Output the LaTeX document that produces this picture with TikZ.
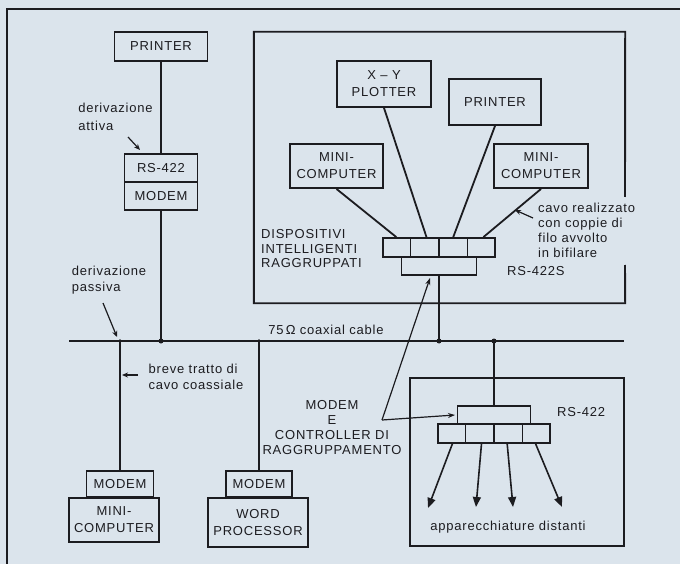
\documentclass[tikz,border=0pt]{standalone}
\usepackage{fontspec}
\setmainfont{Liberation Sans}[LetterSpace=6]
\usetikzlibrary{arrows.meta,calc}
\definecolor{bg}{RGB}{219,228,236}
\definecolor{ink}{RGB}{28,28,32}
\begin{document}
\begin{tikzpicture}[x=1pt,y=-1pt,
  font=\fontsize{13}{17}\selectfont,
  box/.style={draw=ink,line width=1.9pt,align=center,inner sep=0pt,text=ink},
  bar/.style={draw=ink,line width=1.7pt,inner sep=0pt},
  wire/.style={draw=ink,line width=1.8pt},
  lbl/.style={inner sep=0pt,text=ink},
  ptr/.style={draw=ink,line width=1.2pt,-{Stealth[length=6pt,width=5pt]}},
  bigarrow/.style={draw=ink,line width=1.6pt,-{Triangle[length=10pt,width=8pt]}},
  dot/.style={fill=ink}]
\useasboundingbox[fill=bg] (0,0) rectangle (680,564);
% outer frame (left and top edges)
\draw[ink,line width=2pt] (7,564) -- (7,9) -- (680,9);

% ---------- left column ----------
\node[box,minimum width=93pt,minimum height=29pt] (p1) at (161,46.5) {PRINTER};
\node[box,minimum width=73pt,minimum height=28pt] (rs) at (161,168) {RS-422};
\node[box,minimum width=73pt,minimum height=28pt] (md) at (161,196) {MODEM};
\draw[wire] (p1.south) -- (rs.north);

\node[lbl,align=left,font=\fontsize{13}{18}\selectfont] (att) at (115.5,117) {derivazione\\attiva};
\coordinate (attA) at (128,137);
\coordinate (attB) at (140,150);
\draw[ptr] (attA) -- (attB);

\node[lbl,align=left,font=\fontsize{13}{16}\selectfont] (pas) at (109,280) {derivazione\\passiva};
\coordinate (pasA) at (103,303);
\coordinate (pasB) at (117,337);
\draw[ptr] (pasA) -- (pasB);

% ---------- coax ----------
\coordinate (cL) at (69,341);
\coordinate (cR) at (624,341);
\coordinate (j1) at (120,341);
\coordinate (j2) at (161,341);
\coordinate (j3) at (259,341);
\coordinate (j4) at (439,341);
\coordinate (j5) at (494,341);
\draw[wire] (cL) -- (cR);
\draw[wire] (md.south) -- (j2);
\node[lbl] (coaxlbl) at (326,330) {75\,Ω coaxial cable};
\fill[dot] (j1) circle (1.9pt);
\fill[dot] (j2) circle (2.5pt);
\fill[dot] (j3) circle (1.9pt);
\fill[dot] (j4) circle (2.5pt);
\fill[dot] (j5) circle (2.5pt);

% ---------- bottom left ----------
\node[box,minimum width=67pt,minimum height=26pt] (mdL) at (120,484) {MODEM};
\node[box,minimum width=90pt,minimum height=44pt] (mcB) at (114,520) {MINI-\\COMPUTER};
\node[box,minimum width=66pt,minimum height=26pt] (mdW) at (259,484) {MODEM};
\node[box,minimum width=100pt,minimum height=49pt] (wp) at (258,522.5) {WORD\\PROCESSOR};
\draw[wire] (j1) -- (mdL.north);
\draw[wire] (j3) -- (mdW.north);

\node[lbl,align=left,font=\fontsize{13}{16}\selectfont] (breve) at (196,377) {breve tratto di\\cavo coassiale};
\coordinate (brA) at (138,375);
\coordinate (brB) at (122,375);
\draw[ptr] (brA) -- (brB);

% ---------- upper right group ----------
\node[minimum width=371pt,minimum height=271pt,inner sep=0pt] (grp1) at (439.5,167.5) {};
\coordinate (gapT) at (625,197);
\coordinate (gapB) at (625,265);
\draw[ink,line width=1.9pt] (gapT) -- (grp1.north east) -- (grp1.north west) -- (grp1.south west) -- (grp1.south east) -- (gapB);
\node[box,minimum width=94pt,minimum height=46pt] (xy) at (384,84) {X – Y\\PLOTTER};
\node[box,minimum width=92pt,minimum height=46pt] (pr2) at (495,102) {PRINTER};
\node[box,minimum width=93pt,minimum height=44pt] (mcL) at (336.5,166) {MINI-\\COMPUTER};
\node[box,minimum width=94pt,minimum height=44pt] (mcR) at (541,166) {MINI-\\COMPUTER};

\node[bar,minimum width=112pt,minimum height=19pt] (bar1) at (439,247.5) {};
\node[bar,minimum width=75pt,minimum height=18pt] (bar1b) at (439,266) {};
\foreach \f in {0.25,0.5,0.75}
  \draw[ink,line width=1.7pt] ($(bar1.north west)!\f!(bar1.north east)$) -- ($(bar1.south west)!\f!(bar1.south east)$);
\coordinate (b1) at ($(bar1.north west)!0.125!(bar1.north east)$);
\coordinate (b2) at ($(bar1.north west)!0.39!(bar1.north east)$);
\coordinate (b3) at ($(bar1.north west)!0.625!(bar1.north east)$);
\coordinate (b4) at ($(bar1.north west)!0.89!(bar1.north east)$);
\draw[wire] (mcL.south) -- (b1);
\draw[wire] (xy.south) -- (b2);
\draw[wire] (pr2.south) -- (b3);
\draw[wire] (mcR.south) -- (b4);
\draw[wire] (bar1b.south) -- (j4);

\node[lbl,align=left,font=\fontsize{13}{14.5}\selectfont,anchor=west] (disp) at (261,249) {DISPOSITIVI\\INTELLIGENTI\\RAGGRUPPATI};
\node[lbl,align=left,font=\fontsize{13}{15}\selectfont,anchor=west] (cavo) at (538,230) {cavo realizzato\\con coppie di\\filo avvolto\\in bifilare};
\coordinate (cvA) at (533,218);
\coordinate (cvB) at (515,210);
\draw[ptr] (cvA) -- (cvB);
\node[lbl,anchor=west] (rs422s) at (507,271.5) {RS-422S};

% ---------- lower right group ----------
\node[draw=ink,line width=1.9pt,minimum width=214pt,minimum height=168pt,inner sep=0pt] (grp2) at (517,462) {};
\node[bar,minimum width=73pt,minimum height=18pt] (blk) at (494,415) {};
\node[bar,minimum width=112pt,minimum height=19pt] (bar2) at (494,433.5) {};
\foreach \f in {0.25,0.5,0.75}
  \draw[ink,line width=1.7pt] ($(bar2.north west)!\f!(bar2.north east)$) -- ($(bar2.south west)!\f!(bar2.south east)$);
\draw[wire] (j5) -- (blk.north);
\node[lbl,anchor=west] (rs422) at (557,412) {RS-422};
\coordinate (s1) at ($(bar2.south west)!0.134!(bar2.south east)$);
\coordinate (s2) at ($(bar2.south west)!0.39!(bar2.south east)$);
\coordinate (s3) at ($(bar2.south west)!0.616!(bar2.south east)$);
\coordinate (s4) at ($(bar2.south west)!0.866!(bar2.south east)$);
\coordinate (a1) at (428,508);
\coordinate (a2) at (476,507);
\coordinate (a3) at (513,507);
\coordinate (a4) at (562,507);
\draw[bigarrow] (s1) -- (a1);
\draw[bigarrow] (s2) -- (a2);
\draw[bigarrow] (s3) -- (a3);
\draw[bigarrow] (s4) -- (a4);
\node[lbl] (dist) at (508,527) {apparecchiature distanti};

% ---------- MODEM E CONTROLLER label ----------
\node[lbl,align=center,font=\fontsize{13}{15}\selectfont] (ctrl) at (332,427.5) {MODEM\\E\\CONTROLLER DI\\RAGGRUPPAMENTO};
\coordinate (cv) at (382,420);
\coordinate (ctA) at (430,278);
\coordinate (ctB) at (455,415);
\draw[ink,line width=1.2pt,-{Stealth[length=7pt,width=5pt]}] (cv) -- (ctA);
\draw[ink,line width=1.2pt,-{Stealth[length=7pt,width=5pt]}] (cv) -- (ctB);
\end{tikzpicture}
\end{document}
